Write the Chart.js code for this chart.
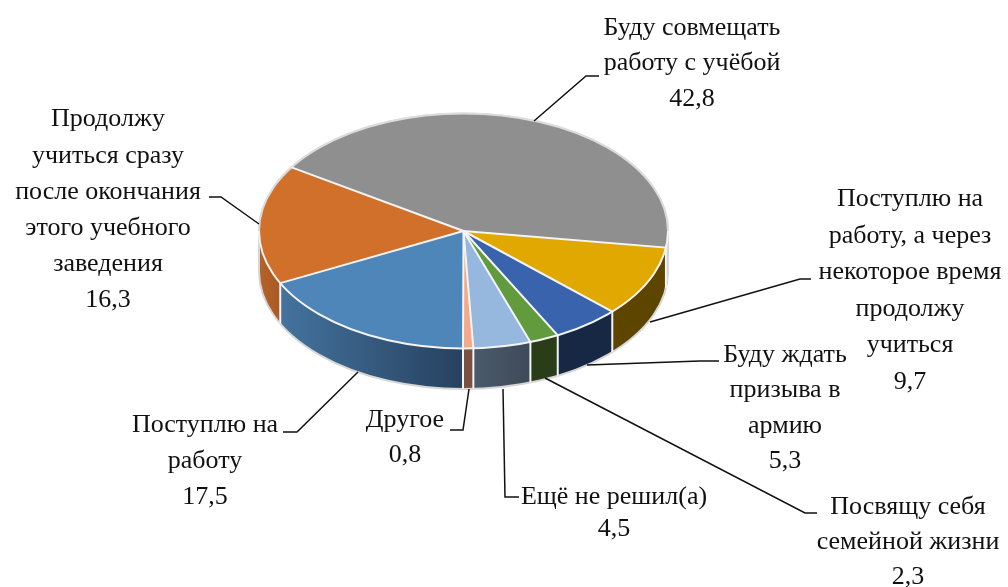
<!DOCTYPE html>
<html><head><meta charset="utf-8">
<style>html,body{margin:0;padding:0;background:#fff}#w{width:1008px;height:587px}</style>
<script src="https://cdn.jsdelivr.net/npm/chart.js@4"></script>
</head><body><div id="w"><canvas id="c" width="1008" height="587"></canvas></div>
<script>
const categories = ["Буду совмещать\nработу с учёбой","Поступлю на\nработу, а через\nнекоторое время\nпродолжу\nучиться","Буду ждать\nпризыва в\nармию","Посвящу себя\nсемейной жизни","Ещё не решил(а)","Другое","Поступлю на\nработу","Продолжу\nучиться сразу\nпосле окончания\nэтого учебного\nзаведения"];
const values = [42.8,9.7,5.3,2.3,4.5,0.8,17.5,16.3];
const topColors = ["#8f8f8f","#e0a800","#3a63ae","#629a3e","#97b8de","#f3a98a","#4f86ba","#d1702a"];
const wallLeft = ["#5a5a5a","#5d4500","#162844","#2a3d18","#4a5a6c","#7a5040","#44739e","#b5622a"];
const wallRight = ["#4a4a4a","#5d4500","#162844","#2a3d18","#3e4a58","#7a5040","#26415f","#a85a22"];
const labelCenterX = [692,910,785,908,614,405,205,108];
const labelFirstY = [28,199.5,355,507.5,497.5,420.5,425.5,119.5];
const lineStep = [35.5,36.5,35.5,35,32,35,36,36.2];
const leaders = [
 [[534,121],[586,76],[599,76]],
 [[650,322],[800,279],[811,279]],
 [[587,365],[700,361],[719,361]],
 [[545,378],[805,513],[817,513]],
 [[503,389],[505,497],[519,497]],
 [[469,389],[463,430],[450,430]],
 [[358,372],[297,432],[283,432]],
 [[259,224],[221,197],[209,197]]
];
const CX=463.5, CY=231, RX=204.5, RY=117.5, DEPTH=40.5, ROT=302.8;
const K=RY/RX;
const pie3d={id:'pie3d',
 beforeDatasetsDraw(chart){
  const ctx=chart.ctx, arcs=chart.getDatasetMeta(0).data;
  const {x,y,outerRadius:r}=arcs[0];
  const ry=r*K;
  ctx.save();
  arcs.forEach((a,i)=>{
    for(const off of [-2*Math.PI,0,2*Math.PI]){
      const s=Math.max(a.startAngle+off,0), e=Math.min(a.endAngle+off,Math.PI);
      if(e<=s) continue;
      const x1=x+r*Math.cos(s), x2=x+r*Math.cos(e);
      const g=ctx.createLinearGradient(Math.min(x1,x2),0,Math.max(x1,x2)+.01,0);
      g.addColorStop(0,wallLeft[i]); g.addColorStop(1,wallRight[i]);
      ctx.beginPath();
      ctx.ellipse(x,y,r,ry,0,s,e);
      ctx.ellipse(x,y+DEPTH,r,ry,0,e,s,true);
      ctx.closePath(); ctx.fillStyle=g; ctx.fill();
    }
  });
  ctx.strokeStyle='#d6d6d6'; ctx.lineWidth=2;
  ctx.beginPath(); ctx.ellipse(x,y,r,ry,0,Math.PI,2*Math.PI); ctx.lineTo(x+r,y+DEPTH);
  ctx.ellipse(x,y+DEPTH,r,ry,0,0,Math.PI); ctx.closePath(); ctx.stroke();
  ctx.translate(x,y); ctx.scale(1,K); ctx.translate(-x,-y);
 },
 afterDatasetsDraw(chart){
  const ctx=chart.ctx, arcs=chart.getDatasetMeta(0).data;
  ctx.restore();
  const {x,y,outerRadius:r}=arcs[0];
  const ry=r*K;
  ctx.save();
  ctx.strokeStyle='#f4f4f4'; ctx.lineWidth=2;
  ctx.beginPath(); ctx.ellipse(x,y,r,ry,0,0,Math.PI); ctx.stroke();
  ctx.strokeStyle='#dcdcdc';
  ctx.beginPath(); ctx.ellipse(x,y,r,ry,0,Math.PI,2*Math.PI); ctx.stroke();
  ctx.strokeStyle='#f4f4f4';
  arcs.forEach(a=>{
    const px=x+r*Math.cos(a.startAngle), py=y+ry*Math.sin(a.startAngle);
    ctx.beginPath(); ctx.moveTo(x,y); ctx.lineTo(px,py);
    if(Math.sin(a.startAngle)>0) ctx.lineTo(px,py+DEPTH);
    ctx.stroke();
  });
  ctx.strokeStyle='#111'; ctx.lineWidth=1.5;
  leaders.forEach(l=>{ctx.beginPath();l.forEach((p,j)=>j?ctx.lineTo(p[0],p[1]):ctx.moveTo(p[0],p[1]));ctx.stroke();});
  ctx.fillStyle='#111'; ctx.font='26px "Liberation Serif"'; ctx.textAlign='center'; ctx.textBaseline='middle';
  categories.forEach((c,i)=>{
    const lines=c.split('\n').concat(values[i].toFixed(1).replace('.',','));
    lines.forEach((t,j)=>ctx.fillText(t,labelCenterX[i],labelFirstY[i]+j*lineStep[i]));
  });
  ctx.restore();
 }
};
new Chart(document.getElementById('c'),{
 type:'pie',
 data:{labels:categories,datasets:[{data:values,backgroundColor:topColors,borderWidth:0,clip:false}]},
 options:{responsive:false,animation:false,rotation:ROT,
  layout:{padding:{left:CX-RX,right:1008-CX-RX,top:CY-RX,bottom:587-CY-RX}},
  plugins:{legend:{display:false},tooltip:{enabled:false},title:{display:false}}},
 plugins:[pie3d]
});
</script></body></html>
